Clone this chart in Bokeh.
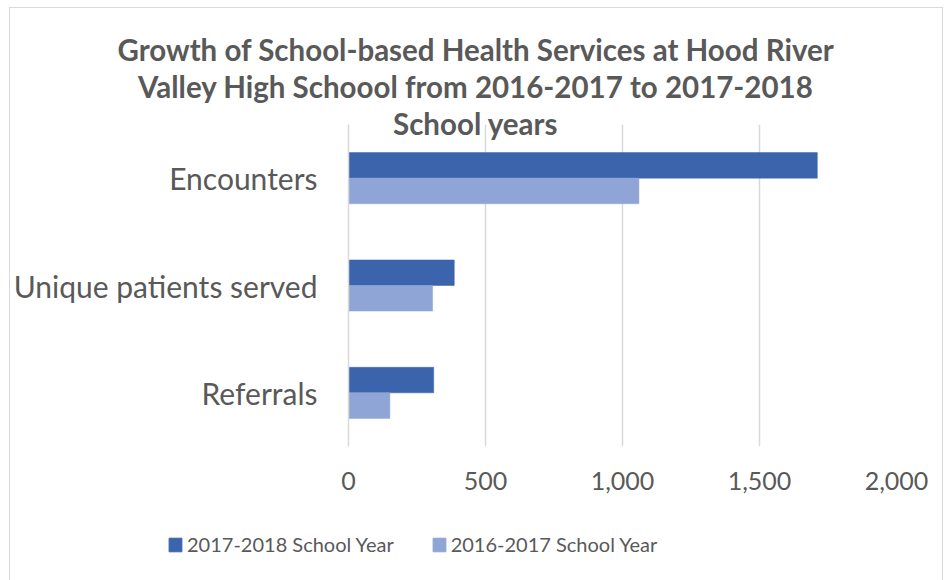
from bokeh.plotting import figure
from bokeh.layouts import column
from bokeh.models import (Range1d, FactorRange, FixedTicker, NumeralTickFormatter,
                          Title, Legend, LegendItem, ColumnDataSource)
from bokeh.transform import dodge
from bokeh.embed import file_html
from bokeh.resources import INLINE

# ---- data ----
categories = ["Referrals", "Unique patients served", "Encounters"]
series_names = ["2017-2018 School Year", "2016-2017 School Year"]
values_2017_2018 = [311, 386, 1711]
values_2016_2017 = [151, 307, 1060]
x_ticks = [0, 500, 1000, 1500, 2000]
title_lines = [
    "Growth of School-based Health Services at Hood River",
    "Valley High Schoool from 2016-2017 to 2017-2018",
    "School years",
]

# ---- style ----
DARK = "#3B64AD"
LIGHT = "#8FA5D5"
TEXT = "#595959"
GRID = "#D9D9D9"
FONT = "Lato"
W = 932

source = ColumnDataSource(dict(cat=categories, a=values_2017_2018, b=values_2016_2017))

p = figure(width=W, height=500, output_backend="svg", toolbar_location=None,
           y_range=FactorRange(factors=categories), x_range=Range1d(0, 2000),
           min_border_left=336, min_border_right=46, min_border_top=116,
           min_border_bottom=62, frame_align=False)
p.outline_line_color = None
p.background_fill_color = "white"
p.border_fill_color = "white"

r1 = p.hbar(y=dodge("cat", 0.119, range=p.y_range), left=0, right="a", height=0.238,
            source=source, fill_color=DARK, line_color=DARK, line_width=0.5)
r2 = p.hbar(y=dodge("cat", -0.119, range=p.y_range), left=0, right="b", height=0.238,
            source=source, fill_color=LIGHT, line_color=LIGHT, line_width=0.5)

ticker = FixedTicker(ticks=x_ticks)
p.xaxis.ticker = ticker
p.xaxis.formatter = NumeralTickFormatter(format="0,0")
p.xaxis.axis_line_color = None
p.xaxis.major_tick_line_color = None
p.xaxis.minor_tick_line_color = None
p.xaxis.major_label_standoff = 19
p.xaxis.major_label_text_font = FONT
p.xaxis.major_label_text_font_size = "25px"
p.xaxis.major_label_text_color = TEXT

p.yaxis.axis_line_color = GRID
p.yaxis.axis_line_width = 1.5
p.yaxis.major_tick_line_color = None
p.yaxis.minor_tick_line_color = None
p.yaxis.major_label_standoff = 25
p.yaxis.major_label_text_font = FONT
p.yaxis.major_label_text_font_size = "30px"
p.yaxis.major_label_text_color = TEXT

p.xgrid.ticker = ticker
p.xgrid.grid_line_color = GRID
p.xgrid.grid_line_width = 1.5
p.ygrid.grid_line_color = None

# title lines: added bottom line first (nearest the frame)
offsets = [-231, -210.5, 44.5]
standoffs = [-32, 32, -32]
for line, off, so in reversed(list(zip(title_lines, offsets, standoffs))):
    p.add_layout(Title(text=line, align="left", offset=off, standoff=so,
                       vertical_align="bottom", text_font=FONT,
                       text_font_style="bold", text_font_size="29.5px",
                       text_color=TEXT), "above")

# legend strip below the chart (its own frame, not aligned with the chart frame)
lg = figure(width=W, height=72, output_backend="svg", toolbar_location=None,
            x_axis_type=None, y_axis_type=None, min_border=0, frame_align=False,
            y_range=FactorRange(factors=categories), x_range=Range1d(0, 2000))
lg.outline_line_color = None
lg.grid.visible = False
lg.background_fill_color = "white"
lg.border_fill_color = "white"
k1 = lg.hbar(y="cat", right="a", height=0.2, source=source, fill_color=DARK,
             line_color=DARK, visible=False)
k2 = lg.hbar(y="cat", right="b", height=0.2, source=source, fill_color=LIGHT,
             line_color=LIGHT, visible=False)

legend = Legend(items=[LegendItem(label=series_names[0], renderers=[k1]),
                       LegendItem(label=series_names[1], renderers=[k2])],
                orientation="horizontal", location=(157, 24),
                padding=0, margin=0, spacing=37, label_standoff=4,
                glyph_width=16, glyph_height=17, label_height=17,
                label_text_font=FONT, label_text_font_size="20px",
                label_text_color=TEXT, border_line_alpha=0,
                background_fill_alpha=0, inactive_fill_alpha=0)
lg.add_layout(legend)

layout = column(p, lg, spacing=0,
                styles={"border": "1px solid #D9D9D9", "border-bottom": "none",
                        "margin-left": "9px", "margin-top": "7px"})

open("out.html", "w").write(file_html(layout, INLINE))
